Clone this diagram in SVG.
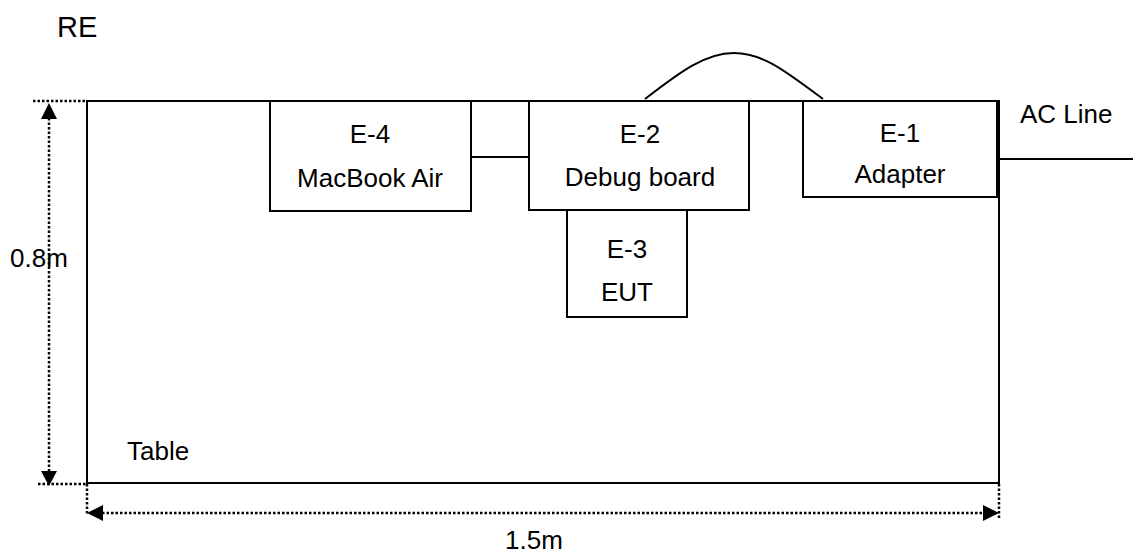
<svg xmlns="http://www.w3.org/2000/svg" width="1133" height="554" viewBox="0 0 1133 554">
<style>
text{font-family:"Liberation Sans",Arial,sans-serif;fill:#000}
.lbl{font-size:26px;text-anchor:middle}
.box{fill:#fff;stroke:#000;stroke-width:2}
.line{fill:none;stroke:#000;stroke-width:2}
.dot{fill:none;stroke:#000;stroke-width:2.5;stroke-dasharray:2.5 2}
.ah{fill:#000}
</style>
<rect width="1133" height="554" fill="#fff"/>
<g id="table">
<rect x="87" y="101" width="912" height="382" class="box"/>
<text x="127" y="460" font-size="26">Table</text>
</g>
<g id="dimensions">
<line x1="33" y1="101" x2="87" y2="101" class="dot"/>
<line x1="38" y1="484" x2="87" y2="484" class="dot"/>
<line x1="49" y1="118" x2="49" y2="472" class="dot"/>
<polygon class="ah" points="49,103 41,119 57,119"/>
<polygon class="ah" points="49,486 41,471 57,471"/>
<line x1="87" y1="484" x2="87" y2="515" class="dot"/>
<line x1="999" y1="484" x2="999" y2="520" class="dot"/>
<line x1="102" y1="513" x2="984" y2="513" class="dot"/>
<polygon class="ah" points="87,513 103,505 103,521"/>
<polygon class="ah" points="999,513 983,505 983,521"/>
<text x="10" y="267" font-size="26">0.8m</text>
<text x="505" y="549" font-size="26">1.5m</text>
</g>
<text x="57" y="37" font-size="29">RE</text>
<g id="connectors">
<line x1="471" y1="157" x2="529" y2="157" class="line"/>
<path d="M645,99 C680,72 705,53 734,53 C765,53 790,75 823,99" class="line"/>
<line x1="999" y1="159" x2="1133" y2="159" class="line"/>
</g>
<g id="E-4">
<rect x="270" y="101" width="201" height="110" class="box"/>
<text x="370" y="143" class="lbl">E-4</text>
<text x="370" y="187" class="lbl">MacBook Air</text>
</g>
<g id="E-2">
<rect x="529" y="101" width="220" height="109" class="box"/>
<text x="640" y="143" class="lbl">E-2</text>
<text x="640" y="186" class="lbl">Debug board</text>
</g>
<g id="E-3">
<rect x="567" y="210" width="120" height="107" class="box"/>
<text x="627" y="258" class="lbl">E-3</text>
<text x="627" y="301" class="lbl">EUT</text>
</g>
<g id="E-1">
<rect x="803" y="101" width="194" height="96" class="box"/>
<text x="900" y="142" class="lbl">E-1</text>
<text x="900" y="183" class="lbl">Adapter</text>
</g>
<text x="1020" y="123" font-size="26">AC Line</text>
</svg>
